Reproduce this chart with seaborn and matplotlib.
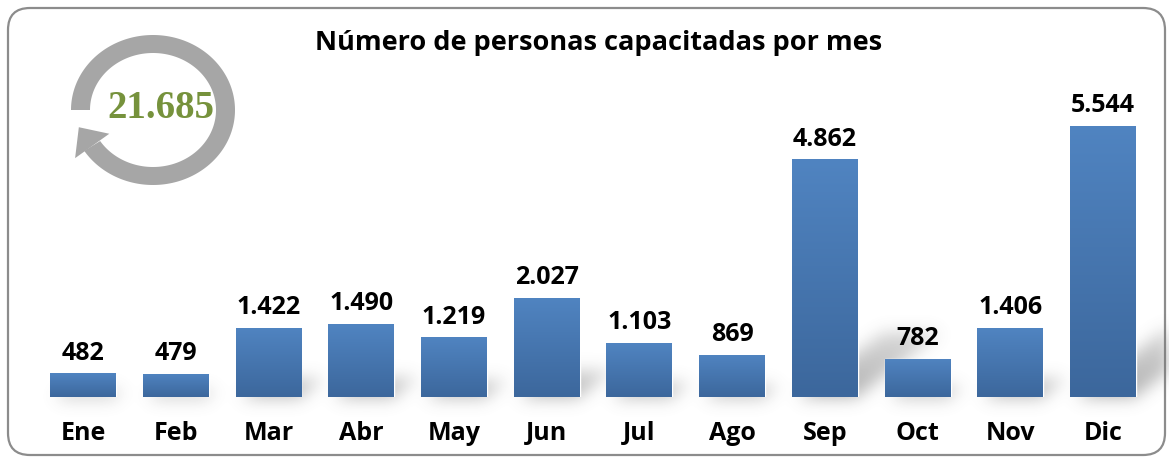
import numpy as np
import matplotlib
matplotlib.use("Agg")
import matplotlib.pyplot as plt
import seaborn as sns
from matplotlib.patches import FancyBboxPatch, Polygon
from matplotlib.colors import LinearSegmentedColormap

# datos
meses = ["Ene", "Feb", "Mar", "Abr", "May", "Jun", "Jul", "Ago", "Sep", "Oct", "Nov", "Dic"]
personas = [482, 479, 1422, 1490, 1219, 2027, 1103, 869, 4862, 782, 1406, 5544]
total = 21685
titulo = "Número de personas capacitadas por mes"

sns.set_theme(style="white")
plt.rcParams["font.family"] = ["Open Sans", "DejaVu Sans"]

W, H = 1169, 459
fig = plt.figure(figsize=(W / 100, H / 100), dpi=100)

# capa de fondo en pixeles (marco redondeado + flecha circular)
bg = fig.add_axes([0, 0, 1, 1], zorder=0)
bg.set_xlim(0, W)
bg.set_ylim(0, H)
bg.axis("off")
marco = FancyBboxPatch((8, 4), 1157, 447, boxstyle="round,pad=0,rounding_size=22",
                       fc="white", ec="#8c8c8c", lw=1.6)
bg.add_patch(marco)

# anillo gris con punta de flecha
cx, cy = 153, 349
th = np.radians(np.linspace(-147, 180, 200))
ext = np.column_stack([cx + 82 * np.cos(th), cy + 75 * np.sin(th)])
inn = np.column_stack([cx + 63 * np.cos(th[::-1]), cy + 57 * np.sin(th[::-1])])
bg.add_patch(Polygon(np.vstack([ext, inn]), closed=True, fc="#a6a6a6", ec="none"))
te = np.radians(-147)
mid = np.array([cx + 72.5 * np.cos(te), cy + 66 * np.sin(te)])
d = np.array([72.5 * np.sin(te), -66 * np.cos(te)])
d = d / np.linalg.norm(d)
p = np.array([d[1], -d[0]])
punta = [mid + 23 * d, mid + 21 * p, mid - 21 * p]
bg.add_patch(Polygon(punta, closed=True, fc="#a6a6a6", ec="none"))
bg.text(161, H - 108, f"{total:,}".replace(",", "."), ha="center", va="center",
        fontsize=28, fontweight="bold", color="#76923c", family="Liberation Serif")

bg.text(599, H - 43, titulo, ha="center", va="center", fontsize=19.5, fontweight="bold",
        color="black")

# grafico de barras
ax = fig.add_axes([0.0313, 0.135, 0.952, 0.639], zorder=1)
ax.patch.set_alpha(0)
sns.barplot(x=meses, y=personas, color="#4a7ab5", width=0.71, saturation=1, ax=ax)
ax.set_xlim(-0.5, 11.5)
ax.set_ylim(0, 6000)

cmap = LinearSegmentedColormap.from_list("azul", ["#3c679c", "#5084c1"])
grad = np.linspace(0, 1, 256).reshape(-1, 1)
sombra = np.zeros((H, W))
for barra, v in zip(ax.patches, personas):
    x0, y0 = barra.get_x(), barra.get_y()
    w, h = barra.get_width(), barra.get_height()
    im = ax.imshow(grad, cmap=cmap, extent=[x0, x0 + w, y0, y0 + h], origin="lower",
                   aspect="auto", zorder=barra.get_zorder() + 0.1)
    im.set_clip_path(barra)
    ax.text(x0 + w / 2, y0 + h + 160, f"{v:,}".replace(",", "."), ha="center", va="bottom",
            fontsize=18, fontweight="bold", color="black")
    # sombra en perspectiva hacia la derecha
    (px0, py0), (px1, py1) = ax.transData.transform([(x0, y0), (x0 + w, y0 + h)])
    hp = py1 - py0
    alto, despl = 0.27 * hp, 0.35 * hp
    for r in range(int(py0), int(py0 + alto) + 1):
        t = (r - py0) / max(alto, 1)
        a, b = int(px0 + 8 + t * despl), int(px1 + t * despl)
        sombra[r, max(a, 0):min(b, W)] = 1 - 0.5 * t

# desenfoque gaussiano
k = np.exp(-0.5 * (np.arange(-24, 25) / 8.0) ** 2)
k /= k.sum()
sombra = np.apply_along_axis(lambda f: np.convolve(f, k, mode="same"), 0, sombra)
sombra = np.apply_along_axis(lambda f: np.convolve(f, k, mode="same"), 1, sombra)
rgba = np.zeros((H, W, 4))
rgba[..., :3] = 0.45
rgba[..., 3] = np.clip(sombra * 0.55, 0, 1)
bg.imshow(rgba, extent=[0, W, 0, H], origin="lower", aspect="auto", zorder=1)

ax.set_xlabel("")
ax.set_ylabel("")
ax.set_yticks([])
sns.despine(ax=ax, left=True, bottom=True)
ax.tick_params(axis="x", length=0, pad=17)
for t in ax.get_xticklabels():
    t.set_fontsize(18)
    t.set_fontweight("bold")
    t.set_color("black")

fig.savefig("out.png", dpi=100, facecolor="white")
